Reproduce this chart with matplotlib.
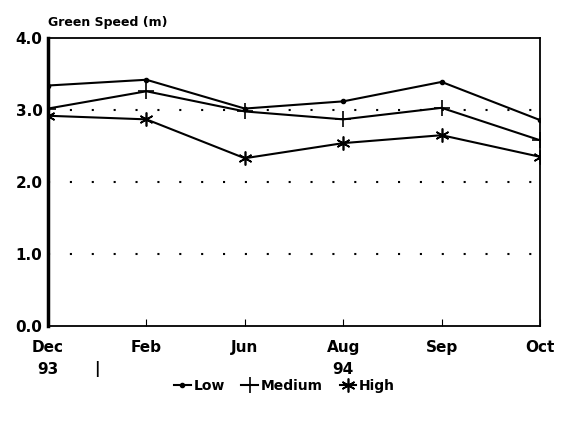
import numpy as np
import matplotlib.pyplot as plt

months = ['Dec', 'Feb', 'Jun', 'Aug', 'Sep', 'Oct']
low = [3.34, 3.42, 3.02, 3.12, 3.39, 2.86]
medium = [3.02, 3.26, 2.98, 2.87, 3.03, 2.58]
high = [2.92, 2.87, 2.33, 2.54, 2.65, 2.35]
yticks = [0.0, 1.0, 2.0, 3.0, 4.0]

plt.rcParams['font.family'] = 'DejaVu Sans'
plt.rcParams['font.weight'] = 'bold'

fig = plt.figure(figsize=(5.69, 4.29), dpi=100)
ax = fig.add_axes([48/569, 1-326/429, 492/569, 288/429])

x = np.arange(len(months))
ax.plot(x, low, color='black', lw=1.5, marker='o', ms=3, label='Low')
ax.plot(x, medium, color='black', lw=1.5, marker='+', ms=11, mew=1.2, label='Medium')
ax.plot(x, high, color='black', lw=1.5, marker=(6, 2, 0), ms=10, mew=1.2, label='High')

# dotted reference lines
for v in [1.0, 2.0, 3.0]:
    ax.axhline(v, color='black', lw=1.5, ls=(0, (1, 9.5)), zorder=0)

ax.set_xlim(0, len(months) - 1)
ax.set_ylim(0, 4.0)
ax.set_yticks(yticks)
ax.set_yticklabels([f'{v:.1f}' for v in yticks], fontsize=11, fontweight='bold')
ax.set_xticks(x)
ax.set_xticklabels(months, fontsize=11, fontweight='bold')
ax.tick_params(axis='x', direction='in', length=5, pad=10)
ax.tick_params(axis='y', length=0, pad=4)
for s in ax.spines.values():
    s.set_linewidth(1.3)
ax.spines['left'].set_linewidth(2.5)

ax.text(0, 4.12, 'Green Speed (m)', fontsize=9, fontweight='bold', ha='left', va='bottom')
ax.text(0, -0.6, '93', fontsize=11, fontweight='bold', ha='center', va='center')
ax.text(0.5, -0.6, '|', fontsize=11, fontweight='bold', ha='center', va='center')
ax.text(3, -0.6, '94', fontsize=11, fontweight='bold', ha='center', va='center')

fig.legend(loc='center', bbox_to_anchor=(0.5, 1-386/429), ncol=3, frameon=False,
           handlelength=1.2, handletextpad=0.2, columnspacing=1.2,
           prop={'weight': 'bold', 'size': 10})

fig.savefig('out.png', dpi=100)
